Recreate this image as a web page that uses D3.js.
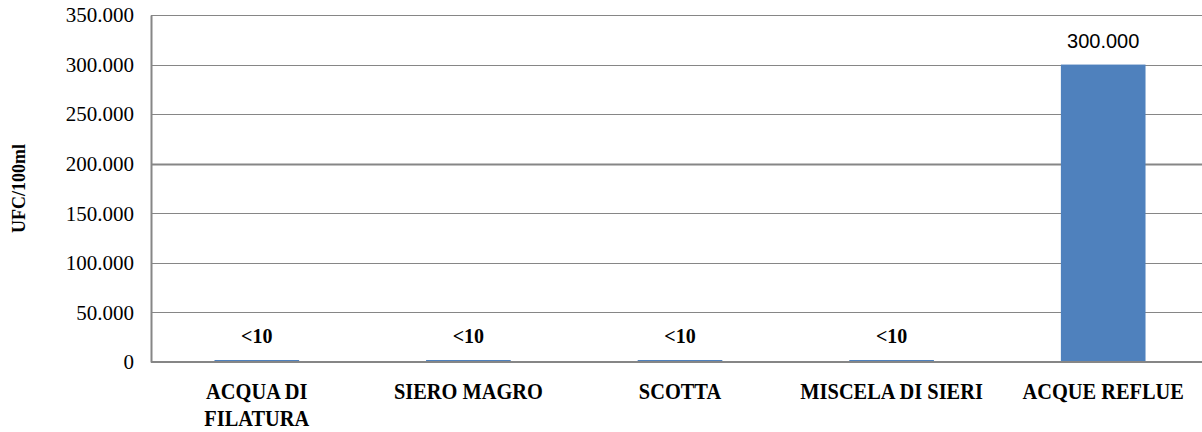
<!DOCTYPE html>
<html>
<head>
<meta charset="utf-8">
<script src="https://cdn.jsdelivr.net/npm/d3@7"></script>
<style>
  html, body { margin: 0; padding: 0; background: #fff; }
  svg { display: block; }
</style>
</head>
<body>
<svg id="chart" width="1202" height="432"></svg>
<script>
// Microbial load per sample type (UFC/100ml)
const categories = ["ACQUA DI FILATURA", "SIERO MAGRO", "SCOTTA", "MISCELA DI SIERI", "ACQUE REFLUE"];
const values = [10, 10, 10, 10, 300000];
const valueLabels = ["<10", "<10", "<10", "<10", "300.000"];
const yTicks = [0, 50000, 100000, 150000, 200000, 250000, 300000, 350000];
const yTitle = "UFC/100ml";

const svg = d3.select("#chart");
const margin = { left: 151, right: -7, top: 15, bottom: 70 };
const W = 1202, H = 432;
const condense = 0.85;

const itLocale = d3.formatLocale({ decimal: ",", thousands: ".", grouping: [3], currency: ["€", ""] });
const fmt = itLocale.format(",d");

const x = d3.scaleBand()
  .domain(categories)
  .range([margin.left, W - margin.right])
  .paddingInner(0.6)
  .paddingOuter(0.3);

const y = d3.scaleLinear()
  .domain([0, 350000])
  .range([H - margin.bottom, margin.top]);

const serif = "'Liberation Serif', 'Times New Roman', serif";
const sans = "'Liberation Sans', Arial, sans-serif";

// Horizontal gridlines
svg.append("g")
  .selectAll("line")
  .data(yTicks.filter(d => d > 0))
  .join("line")
  .attr("x1", margin.left)
  .attr("x2", W)
  .attr("y1", d => Math.round(y(d)) + 0.5)
  .attr("y2", d => Math.round(y(d)) + 0.5)
  .attr("stroke", "#868686")
  .attr("stroke-width", d => d === 200000 ? 2 : 1);

// Bars (tiny values kept visible as a hairline)
const barTop = d => Math.min(y(d), y(0) - 2);
svg.append("g")
  .selectAll("rect")
  .data(values)
  .join("rect")
  .attr("x", (d, i) => x(categories[i]))
  .attr("width", x.bandwidth())
  .attr("y", d => barTop(d))
  .attr("height", d => y(0) - barTop(d))
  .attr("fill", "#4f81bd");

// Y axis
const yAxis = d3.axisLeft(y).tickValues(yTicks).tickFormat(fmt).tickSize(0).tickPadding(17);
const gy = svg.append("g").attr("transform", `translate(${margin.left},0)`).call(yAxis);
gy.attr("font-family", serif);
gy.select(".domain").attr("stroke", "#868686").attr("stroke-width", 2);
gy.selectAll("text")
  .attr("font-family", serif)
  .attr("font-size", 21)
  .attr("fill", "#000");

// X axis baseline
const xAxis = d3.axisBottom(x).tickSize(0).tickPadding(0).tickFormat("");
const gx = svg.append("g").attr("transform", `translate(0,${y(0)})`).call(xAxis);
gx.select(".domain").attr("stroke", "#868686").attr("stroke-width", 2).attr("d", `M${margin.left},0H${W}`);

// Category labels, wrapped to fit the band, set in a condensed bold serif
const labelG = svg.append("g");
categories.forEach(c => {
  const cx = x(c) + x.bandwidth() / 2;
  const t = labelG.append("text")
    .attr("transform", `translate(${cx},${y(0) + 37}) scale(${condense},1)`)
    .attr("text-anchor", "middle")
    .attr("font-family", serif)
    .attr("font-weight", "bold")
    .attr("font-size", 24)
    .attr("fill", "#000");
  const words = c.split(" ");
  let line = [];
  let tspan = t.append("tspan").attr("x", 0).attr("dy", 0);
  words.forEach(w => {
    line.push(w);
    tspan.text(line.join(" "));
    if (tspan.node().getComputedTextLength() * condense > 190 && line.length > 1) {
      line.pop();
      tspan.text(line.join(" "));
      line = [w];
      tspan = t.append("tspan").attr("x", 0).attr("dy", 27).text(w);
    }
  });
});

// Value labels above bars
svg.append("g")
  .selectAll("text")
  .data(values)
  .join("text")
  .attr("x", (d, i) => x(categories[i]) + x.bandwidth() / 2)
  .attr("y", d => barTop(d) - 17)
  .attr("text-anchor", "middle")
  .attr("font-family", (d, i) => valueLabels[i].startsWith("<") ? serif : sans)
  .attr("font-weight", (d, i) => valueLabels[i].startsWith("<") ? "bold" : "normal")
  .attr("font-size", 20)
  .attr("fill", "#000")
  .text((d, i) => valueLabels[i]);

// Y axis title
svg.append("text")
  .attr("transform", `translate(25,${(y(0) + y(350000)) / 2}) rotate(-90)`)
  .attr("text-anchor", "middle")
  .attr("font-family", serif)
  .attr("font-weight", "bold")
  .attr("font-size", 18)
  .attr("fill", "#000")
  .text(yTitle);
</script>
</body>
</html>
